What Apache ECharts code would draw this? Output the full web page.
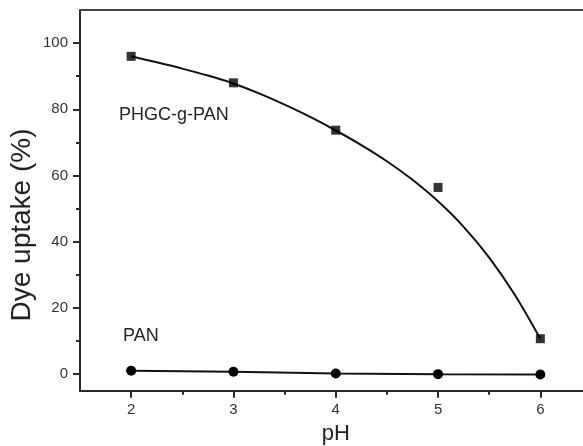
<!DOCTYPE html>
<html>
<head>
<meta charset="utf-8">
<script src="https://cdn.jsdelivr.net/npm/echarts@6/dist/echarts.min.js"></script>
<style>
  html, body { margin: 0; padding: 0; background: #ffffff; }
  #chart { width: 583px; height: 446px; }
</style>
</head>
<body>
<div id="chart"></div>
<script>
// Measured dye uptake versus pH
const pHValues = [2, 3, 4, 5, 6];
const phgcUptake = [96.0, 88.0, 73.7, 56.4, 10.7];
const panUptake = [1.0, 0.7, 0.2, 0.0, -0.1];

// Fitted curve for PHGC-g-PAN
const fitPH = [2, 2.25, 2.5, 2.75, 3, 3.25, 3.5, 3.75, 4, 4.25, 4.5, 4.75, 5, 5.25, 5.5, 5.75, 6];
const fitUptake = [96.0, 94.2, 92.3, 90.2, 87.8, 84.8, 81.4, 77.7, 73.6, 69.2, 64.3, 58.7, 52.2, 44.5, 35.2, 24.0, 10.7];

// Axis ticks
const xMajorTicks = [2, 3, 4, 5, 6];
const xMinorTicks = [2.5, 3.5, 4.5, 5.5];
const yMajorTicks = [0, 20, 40, 60, 80, 100];
const yMinorTicks = [10, 30, 50, 70, 90];

const pairs = (xs, ys) => xs.map((x, i) => [x, ys[i]]);

const ink = '#111111';
const axisInk = '#2a2a2a';
const font = 'Liberation Sans, Arial, sans-serif';

const chart = echarts.init(document.getElementById('chart'), null, { renderer: 'canvas' });

const X_MIN = 1.5, X_MAX = 6.5, Y_MIN = -5, Y_MAX = 110;

chart.setOption({
  backgroundColor: '#ffffff',
  animation: false,
  // plot area runs past the right edge of the canvas
  grid: { left: 80, top: 10, width: 511.5, height: 380.7, containLabel: false, outerBoundsMode: 'none' },
  xAxis: [
    {
      type: 'value', position: 'bottom', min: X_MIN, max: X_MAX,
      splitLine: { show: false },
      axisLine: { show: true, onZero: false, lineStyle: { color: axisInk, width: 2 } },
      axisTick: { show: true, inside: false, length: 7, lineStyle: { color: axisInk, width: 2 }, customValues: xMajorTicks },
      axisLabel: { show: true, margin: 12, fontSize: 15, color: '#333', fontFamily: font, customValues: xMajorTicks },
      name: 'pH', nameLocation: 'middle', nameGap: 31,
      nameTextStyle: { fontSize: 22, color: '#222', fontFamily: font }
    },
    {
      type: 'value', position: 'bottom', min: X_MIN, max: X_MAX,
      splitLine: { show: false },
      axisLine: { show: false, onZero: false },
      axisTick: { show: true, inside: false, length: 4, lineStyle: { color: axisInk, width: 2 }, customValues: xMinorTicks },
      axisLabel: { show: false }
    },
    {
      type: 'value', position: 'top', min: X_MIN, max: X_MAX,
      splitLine: { show: false },
      axisLine: { show: true, onZero: false, lineStyle: { color: '#444', width: 2 } },
      axisTick: { show: false },
      axisLabel: { show: false }
    }
  ],
  yAxis: [
    {
      type: 'value', position: 'left', min: Y_MIN, max: Y_MAX,
      splitLine: { show: false },
      axisLine: { show: true, onZero: false, lineStyle: { color: axisInk, width: 2 } },
      axisTick: { show: true, inside: false, length: 7, lineStyle: { color: axisInk, width: 2 }, customValues: yMajorTicks },
      axisLabel: { show: true, margin: 12, fontSize: 15, color: '#333', fontFamily: font, customValues: yMajorTicks }
    },
    {
      type: 'value', position: 'left', min: Y_MIN, max: Y_MAX,
      splitLine: { show: false },
      axisLine: { show: false, onZero: false },
      axisTick: { show: true, inside: false, length: 4, lineStyle: { color: axisInk, width: 2 }, customValues: yMinorTicks },
      axisLabel: { show: false }
    }
  ],
  series: [
    {
      name: 'PHGC-g-PAN fit', type: 'line', xAxisIndex: 0, yAxisIndex: 0,
      data: pairs(fitPH, fitUptake), smooth: 0.3, showSymbol: false, symbol: 'none',
      lineStyle: { color: ink, width: 2 }, z: 2
    },
    {
      name: 'PHGC-g-PAN', type: 'scatter', xAxisIndex: 0, yAxisIndex: 0,
      data: pairs(pHValues, phgcUptake), symbol: 'rect', symbolSize: 9,
      itemStyle: { color: '#000' }, z: 3
    },
    {
      name: 'PAN', type: 'line', xAxisIndex: 0, yAxisIndex: 0,
      data: pairs(pHValues, panUptake), symbol: 'circle', symbolSize: 10, showSymbol: true,
      lineStyle: { color: ink, width: 2 }, itemStyle: { color: '#000' }, z: 3
    }
  ],
  graphic: [
    {
      type: 'text', x: 22, y: 225, rotation: Math.PI / 2,
      style: { text: 'Dye uptake (%)', fontSize: 28, fontFamily: font, fill: '#222', align: 'center', verticalAlign: 'middle' }
    },
    {
      type: 'text', x: 119, y: 115,
      style: { text: 'PHGC-g-PAN', fontSize: 18, fontFamily: font, fill: '#222', align: 'left', verticalAlign: 'middle' }
    },
    {
      type: 'text', x: 123, y: 336,
      style: { text: 'PAN', fontSize: 18, fontFamily: font, fill: '#222', align: 'left', verticalAlign: 'middle' }
    }
  ]
});
</script>
</body>
</html>
